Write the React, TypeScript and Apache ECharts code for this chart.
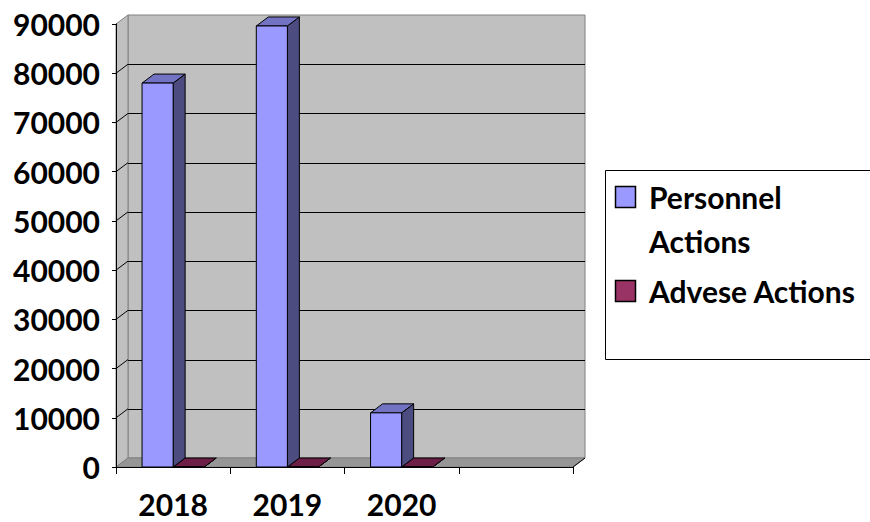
import React, { useEffect, useRef } from "react";
import * as echarts from "echarts";

const categories = ["2018", "2019", "2020", ""];
const personnelActions = [78000, 89600, 11000];
const adverseActions = [0, 0, 0];
const seriesNames = ["Personnel Actions", "Advese Actions"];
const yTickValues = [0, 10000, 20000, 30000, 40000, 50000, 60000, 70000, 80000, 90000];

const DX = 12;
const DY = -9;
const FONT = "Lato";

const px = (v: number) => Math.round(v) + 0.5;

export default function App() {
  const ref = useRef<HTMLDivElement>(null);
  useEffect(() => {
    if (!ref.current) return;
    const chart = echarts.init(ref.current, null, { renderer: "svg" });

    const wallRender = (params: any, api: any) => {
      const cs = params.coordSys;
      const x0 = cs.x;
      const x1 = cs.x + cs.width;
      const yTop = api.coord([0, yTickValues[yTickValues.length - 1]])[1];
      const yBot = api.coord([0, 0])[1];
      const children: any[] = [];
      children.push({
        type: "polygon",
        shape: { points: [[x0 + DX, yTop + DY], [x1 + DX, yTop + DY], [x1 + DX, yBot + DY], [x0 + DX, yBot + DY]] },
        style: { fill: "#C0C0C0", stroke: "#808080", lineWidth: 1 },
      });
      children.push({
        type: "polygon",
        shape: { points: [[x0, yTop], [x0 + DX, yTop + DY], [x0 + DX, yBot + DY], [x0, yBot]] },
        style: { fill: "#C0C0C0", stroke: "#808080", lineWidth: 1 },
      });
      children.push({
        type: "polygon",
        shape: { points: [[x0, yBot], [x0 + DX, yBot + DY], [x1 + DX, yBot + DY], [x1, yBot]] },
        style: { fill: "#969696", stroke: "#808080", lineWidth: 1 },
      });
      children.push({
        type: "line",
        shape: { x1: x1, y1: yBot, x2: x1 + DX, y2: yBot + DY },
        style: { stroke: "#000", lineWidth: 1 },
      });
      yTickValues.forEach((v, i) => {
        if (i === 0 || i === yTickValues.length - 1) return;
        const y = api.coord([0, v])[1];
        children.push({
          type: "line",
          shape: { x1: x0 + DX, y1: px(y + DY), x2: x1 + DX, y2: px(y + DY) },
          style: { stroke: "#000", lineWidth: 1 },
        });
        children.push({
          type: "line",
          shape: { x1: x0, y1: y, x2: x0 + DX, y2: y + DY },
          style: { stroke: "#000", lineWidth: 1 },
        });
      });
      return { type: "group", children };
    };

    const makeBarRender = (offsetIndex: number, front: string, top: string, side: string) =>
      (params: any, api: any) => {
        const idx = api.value(0);
        const val = api.value(1);
        const c = api.coord([idx, val]);
        const b = api.coord([idx, 0]);
        const band = api.size([1, 0])[0];
        const w = band * 0.272;
        const xl = offsetIndex === 0 ? c[0] - w : c[0];
        const xr = xl + w;
        const yt = c[1];
        const yb = b[1];
        const st = { stroke: "#000", lineWidth: 1, lineJoin: "round" };
        return {
          type: "group",
          children: [
            {
              type: "polygon",
              shape: { points: [[xr, yt], [xr + DX, yt + DY], [xr + DX, yb + DY], [xr, yb]] },
              style: { fill: side, ...st },
            },
            {
              type: "polygon",
              shape: { points: [[xl, yt], [xl + DX, yt + DY], [xr + DX, yt + DY], [xr, yt]] },
              style: { fill: top, ...st },
            },
            {
              type: "polygon",
              shape: { points: [[xl, yt], [xr, yt], [xr, yb], [xl, yb]] },
              style: { fill: front, ...st },
            },
          ],
        };
      };

    const option: any = {
      animation: false,
      backgroundColor: "#ffffff",
      grid: { left: 116, top: 24, width: 457, height: 443, containLabel: false },
      xAxis: {
        type: "category",
        data: categories,
        boundaryGap: true,
        z: 10,
        axisLine: { show: true, lineStyle: { color: "#000", width: 1 } },
        axisTick: { show: true, length: 7, alignWithLabel: false, lineStyle: { color: "#000" } },
        axisLabel: { margin: 25, lineHeight: 24, color: "#000", fontFamily: FONT, fontWeight: "bold", fontSize: 30 },
        splitLine: { show: false },
      },
      yAxis: {
        type: "value",
        min: 0,
        max: 90000,
        interval: 10000,
        z: 10,
        axisLine: { show: true, lineStyle: { color: "#000", width: 1 } },
        axisTick: { show: true, length: 4, lineStyle: { color: "#000" } },
        axisLabel: {
          margin: 16,
          color: "#000",
          fontFamily: FONT,
          fontWeight: "bold",
          fontSize: 30,
          formatter: (v: number) => String(v),
        },
        splitLine: { show: false },
      },
      series: [
        {
          type: "custom",
          name: "walls",
          z: 1,
          clip: false,
          silent: true,
          data: [[0, 0]],
          encode: { x: 0, y: 1 },
          renderItem: wallRender,
        },
        {
          type: "custom",
          name: seriesNames[0],
          z: 3,
          clip: false,
          data: personnelActions.map((v, i) => [i, v]),
          encode: { x: 0, y: 1 },
          renderItem: makeBarRender(0, "#9999FF", "#7373C4", "#4C4C80"),
        },
        {
          type: "custom",
          name: seriesNames[1],
          z: 2,
          clip: false,
          data: adverseActions.map((v, i) => [i, v]),
          encode: { x: 0, y: 1 },
          renderItem: makeBarRender(1, "#993366", "#6E1F47", "#4D1A33"),
        },
      ],
      graphic: [
        {
          type: "rect",
          z: 20,
          shape: { x: 605.5, y: 170.5, width: 300, height: 189 },
          style: { fill: "#fff", stroke: "#000", lineWidth: 1 },
        },
        {
          type: "rect",
          z: 21,
          shape: { x: 615.5, y: 186.5, width: 20, height: 21 },
          style: { fill: "#9999FF", stroke: "#000", lineWidth: 1.5 },
        },
        {
          type: "text",
          z: 21,
          style: {
            text: "Personnel\nActions",
            x: 649,
            y: 175,
            fill: "#000",
            font: `bold 30px ${FONT}`,
            lineHeight: 44,
            verticalAlign: "top",
          },
        },
        {
          type: "rect",
          z: 21,
          shape: { x: 615.5, y: 280.5, width: 20, height: 21 },
          style: { fill: "#993366", stroke: "#000", lineWidth: 1.5 },
        },
        {
          type: "text",
          z: 21,
          style: {
            text: seriesNames[1],
            x: 649,
            y: 276,
            fill: "#000",
            font: `bold 30px ${FONT}`,
            lineHeight: 30,
            verticalAlign: "top",
          },
        },
      ],
    };
    chart.setOption(option);
    return () => chart.dispose();
  }, []);

  return (
    <div
      ref={ref}
      style={{ position: "fixed", left: 0, top: 0, width: 870, height: 522, background: "#fff" }}
    />
  );
}
